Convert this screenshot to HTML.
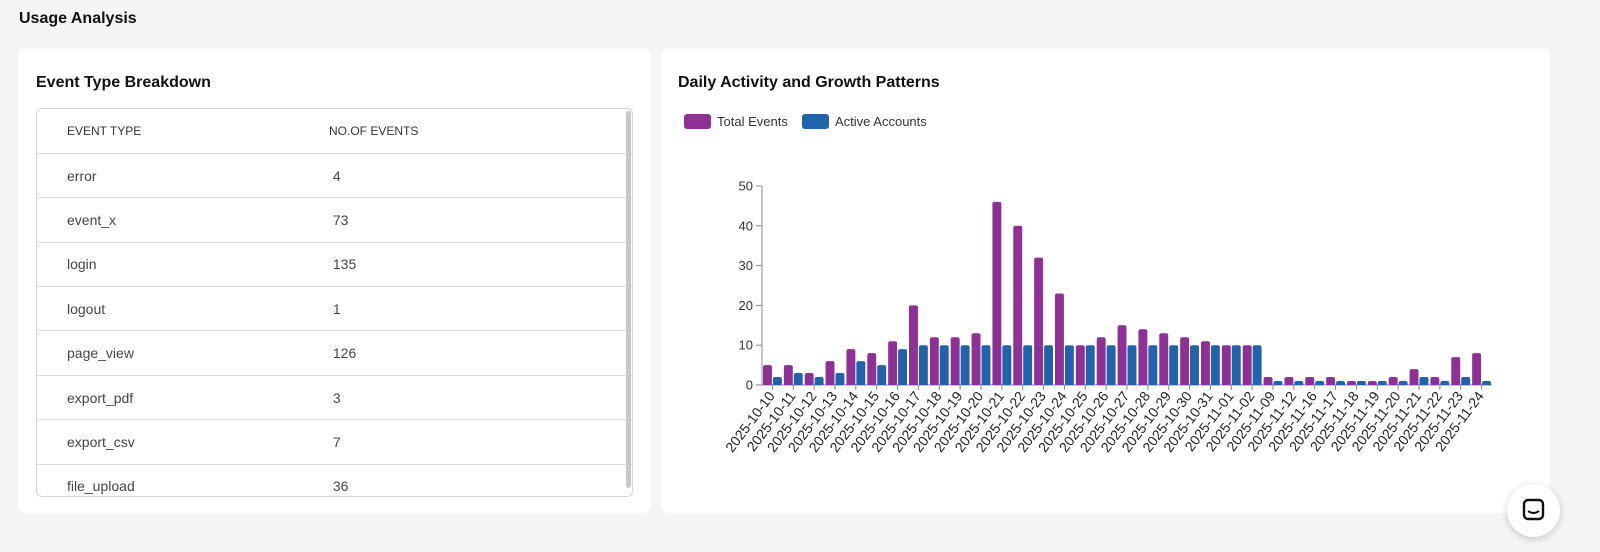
<!DOCTYPE html>
<html><head><meta charset="utf-8"><style>
*{box-sizing:border-box;margin:0;padding:0}
body{width:1600px;height:552px;background:#f5f5f3;font-family:"Liberation Sans",sans-serif;position:relative;overflow:hidden;color:#111}
.h{position:absolute;left:19px;top:10px;font-size:16px;font-weight:bold}
.card{position:absolute;background:#fff;border-radius:8px}
.ct{position:absolute;font-size:16px;font-weight:bold}
table{border-collapse:collapse;width:100%}
td,th{height:44.4px;text-align:left;font-size:14px;color:#444;border-bottom:1px solid #dcdde2;font-weight:normal;padding-left:30px}
th{font-size:12px;color:#333}
</style></head><body>
<div class="h">Usage Analysis</div>
<div class="card" style="left:18px;top:49px;width:633px;height:464px">
<div class="ct" style="left:18px;top:25px">Event Type Breakdown</div>
<div style="position:absolute;left:18px;top:59px;width:597px;height:389px;border:1px solid #d4d5da;border-radius:6px;overflow:hidden">
<div style="position:absolute;right:1px;top:2px;width:5px;height:377px;background:#c8c8c8;border-radius:3px"></div>
<table>
<tr><th style="width:262px">EVENT TYPE</th><th>NO.OF EVENTS</th></tr>
<tr><td>error</td><td>&nbsp;4</td></tr>
<tr><td>event_x</td><td>&nbsp;73</td></tr>
<tr><td>login</td><td>&nbsp;135</td></tr>
<tr><td>logout</td><td>&nbsp;1</td></tr>
<tr><td>page_view</td><td>&nbsp;126</td></tr>
<tr><td>export_pdf</td><td>&nbsp;3</td></tr>
<tr><td>export_csv</td><td>&nbsp;7</td></tr>
<tr><td>file_upload</td><td>&nbsp;36</td></tr>
</table></div></div>
<div class="card" style="left:661px;top:49px;width:889px;height:464px">
<div class="ct" style="left:17px;top:25px">Daily Activity and Growth Patterns</div>
</div>
<svg id="ch" width="1600" height="552" style="position:absolute;left:0;top:0" font-family="Liberation Sans, sans-serif"></svg>
<div style="position:absolute;left:1507px;top:484px;width:53px;height:53px;border-radius:50%;background:#fff;box-shadow:0 2px 8px rgba(0,0,0,.2)">
<svg width="53" height="53"><rect x="17" y="16" width="19" height="19" rx="4" fill="none" stroke="#111" stroke-width="2.4"/><path d="M21 27 q5.5 4 11 0" fill="none" stroke="#111" stroke-width="2"/></svg></div>
<script>
const categories=["2025-10-10","2025-10-11","2025-10-12","2025-10-13","2025-10-14","2025-10-15","2025-10-16","2025-10-17","2025-10-18","2025-10-19","2025-10-20","2025-10-21","2025-10-22","2025-10-23","2025-10-24","2025-10-25","2025-10-26","2025-10-27","2025-10-28","2025-10-29","2025-10-30","2025-10-31","2025-11-01","2025-11-02","2025-11-09","2025-11-12","2025-11-16","2025-11-17","2025-11-18","2025-11-19","2025-11-20","2025-11-21","2025-11-22","2025-11-23","2025-11-24"];
const totalEvents=[5,5,3,6,9,8,11,20,12,12,13,46,40,32,23,10,12,15,14,13,12,11,10,10,2,2,2,2,1,1,2,4,2,7,8];
const activeAccounts=[2,3,2,3,6,5,9,10,10,10,10,10,10,10,10,10,10,10,10,10,10,10,10,10,1,1,1,1,1,1,1,2,1,2,1];
const yTicks=[0,10,20,30,40,50];
const seriesNames=["Total Events","Active Accounts"];
const colors=["#8f3097","#1f63ab"];
const svg=document.getElementById('ch');const NS='http://www.w3.org/2000/svg';
function mk(t,a,p){const e=document.createElementNS(NS,t);for(const k in a)e.setAttribute(k,a[k]);(p||svg).appendChild(e);return e;}
const x0=762,x1=1492,y0=385,y1=186,yMax=50;
const bw=(x1-x0)/categories.length;
const ys=v=>y0-(v/yMax)*(y0-y1);
const xs=i=>x0+i*bw;
seriesNames.forEach((n,i)=>{const lx=i?802:684;
const r=mk('rect',{x:lx,y:114,width:27,height:15,rx:3,fill:colors[i]});


const t=mk('text',{x:lx+33,y:126,'font-size':13,fill:'#333'});t.textContent=n;

});
const ya=mk('line',{x1:x0,y1:y1,x2:x0,y2:y0,stroke:'#888'});


yTicks.forEach(v=>{mk('line',{x1:x0-6,x2:x0,y1:ys(v),y2:ys(v),stroke:'#888'});
const t=mk('text',{x:x0-9,y:ys(v)+4.5,'font-size':13,'text-anchor':'end',fill:'#333'});t.textContent=v;

});
const xa=mk('line',{x1:x0,y1:y0,x2:x1,y2:y0,stroke:'#888'});


function bar(x,w,v,c){const y=ys(v),h=y0-y;const r=Math.min(2,h);
return mk('path',{d:`M${x},${y0}V${y+r}Q${x},${y} ${x+r},${y}H${x+w-r}Q${x+w},${y} ${x+w},${y+r}V${y0}Z`,fill:c});}
categories.forEach((c,i)=>{const x=xs(i);const w=(bw-3)/2;
const b1=bar(x+1,w,totalEvents[i],colors[0]);


const b2=bar(x+2+w,w,activeAccounts[i],colors[1]);


const cx=x+bw/2;mk('line',{x1:cx,x2:cx,y1:y0,y2:y0+5,stroke:'#888'});
const t=mk('text',{x:cx+3,y:y0+11,'font-size':14,'text-anchor':'end',fill:'#222',transform:`rotate(-53 ${cx+3} ${y0+11})`});t.textContent=c;

});
</script>
</body></html>
